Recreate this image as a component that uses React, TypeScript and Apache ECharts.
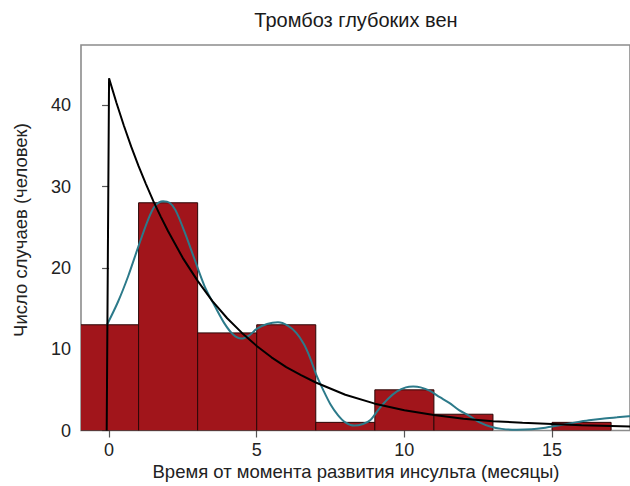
import React, { useEffect, useRef } from "react";
import * as echarts from "echarts";

// Histogram: month bins (centres) and the number of cases in each
const binCenters = [0, 2, 4, 6, 8, 10, 12, 14, 16];
const binWidth = 2;
const caseCounts = [13, 28, 12, 13, 1, 5, 2, 0, 1];

// Fitted exponential curve (time, cases)
const expCurve: [number, number][] = [
  [-0.08, 0], [0, 43.3], [0.25, 40.3], [0.5, 37.5], [0.75, 34.9], [1, 32.5],
  [1.25, 30.3], [1.5, 28.2], [1.75, 26.3], [2, 24.5], [2.5, 21.2], [3, 18.4],
  [3.5, 15.9], [4, 13.8], [4.5, 12.0], [5, 10.4], [5.5, 9.0], [6, 7.8],
  [6.5, 6.8], [7, 5.9], [8, 4.4], [9, 3.3], [10, 2.5], [11, 1.9], [12, 1.45],
  [13, 1.15], [14, 0.95], [15, 0.8], [16, 0.65], [17, 0.55], [18, 0.45], [18.5, 0.42],
];

// Kernel density estimate (time, cases)
const densityCurve: [number, number][] = [
  [-0.07, 13.0], [0.3, 15.8], [0.65, 19.0], [1.0, 22.7], [1.33, 26.0], [1.55, 27.6],
  [1.83, 28.2], [2.05, 28.0], [2.25, 27.1], [2.57, 24.3], [2.9, 21.0], [3.24, 17.7],
  [3.58, 15.3], [3.9, 13.2], [4.2, 11.8], [4.48, 11.3], [4.75, 11.7], [5.0, 12.5],
  [5.35, 13.1], [5.72, 13.3], [6.05, 12.9], [6.34, 12.0], [6.6, 10.6], [6.8, 9.0],
  [7.0, 7.0], [7.25, 5.0], [7.5, 3.2], [7.75, 1.9], [8.0, 1.0], [8.3, 0.6],
  [8.6, 0.8], [8.85, 1.3], [9.15, 2.7], [9.45, 3.9], [9.75, 4.8], [10.05, 5.3],
  [10.3, 5.4], [10.55, 5.3], [10.85, 4.9], [11.2, 4.1], [11.52, 3.4], [11.85, 2.5],
  [12.2, 1.8], [12.55, 1.0], [12.9, 0.5], [13.3, 0.2], [13.8, 0.1], [14.3, 0.15],
  [14.7, 0.3], [15.0, 0.5], [15.4, 0.75], [15.8, 1.0], [16.25, 1.25], [16.7, 1.45],
  [17.2, 1.62], [17.6, 1.75], [18.0, 1.85], [18.5, 1.9],
];

const xTicks = [0, 5, 10, 15];
const yTicks = [0, 10, 20, 30, 40];

const chartTitle = "Тромбоз глубоких вен";
const xTitle = "Время от момента развития инсульта (месяцы)";
const yTitle = "Число случаев (человек)";

const FONT = "'Liberation Sans', Arial, Helvetica, sans-serif";
const TEXT = "#222";

export default function App() {
  const ref = useRef<HTMLDivElement>(null);

  useEffect(() => {
    if (!ref.current) return;
    const chart = echarts.init(ref.current, undefined, { renderer: "svg" });

    const histData = binCenters.map((c, i) => [c, caseCounts[i]]);

    chart.setOption({
      animation: false,
      backgroundColor: "#fff",
      textStyle: { fontFamily: FONT },
      grid: {
        left: 81,
        top: 45,
        width: 550,
        height: 385.5,
        show: true,
        borderColor: "#8c8c8c",
        borderWidth: 1.6,
        backgroundColor: "transparent",
      },
      xAxis: {
        type: "value",
        min: -0.95,
        max: 17.64,
        axisLine: { show: false },
        splitLine: { show: false },
        axisTick: {
          show: true,
          length: 7,
          customValues: xTicks,
          lineStyle: { color: "#555", width: 1.2 },
        },
        axisLabel: {
          customValues: xTicks,
          fontSize: 18,
          color: TEXT,
          margin: 10,
          fontFamily: FONT,
        },
      },
      yAxis: {
        type: "value",
        min: 0,
        max: 47.4,
        axisLine: { show: false },
        splitLine: { show: false },
        axisTick: {
          show: true,
          length: 7,
          customValues: yTicks,
          lineStyle: { color: "#555", width: 1.2 },
        },
        axisLabel: {
          customValues: yTicks,
          fontSize: 18,
          color: TEXT,
          margin: 10,
          fontFamily: FONT,
        },
      },
      graphic: [
        {
          type: "text",
          x: 356,
          y: 20,
          style: {
            text: chartTitle,
            font: `20px ${FONT}`,
            fill: "#1a1a1a",
            align: "center",
            verticalAlign: "middle",
            textAlign: "center",
            textVerticalAlign: "middle",
          },
        },
        {
          type: "text",
          x: 356,
          y: 471,
          style: {
            text: xTitle,
            font: `18.5px ${FONT}`,
            fill: TEXT,
            align: "center",
            verticalAlign: "middle",
            textAlign: "center",
            textVerticalAlign: "middle",
          },
        },
        {
          type: "text",
          x: 20,
          y: 230,
          rotation: Math.PI / 2,
          style: {
            text: yTitle,
            font: `18.5px ${FONT}`,
            fill: TEXT,
            align: "center",
            verticalAlign: "middle",
            textAlign: "center",
            textVerticalAlign: "middle",
          },
        },
      ],
      series: [
        {
          type: "custom",
          clip: true,
          data: histData,
          renderItem: (params: any, api: any) => {
            const c = api.value(0);
            const v = api.value(1);
            if (!v) return null;
            const p0 = api.coord([c - binWidth / 2, v]);
            const p1 = api.coord([c + binWidth / 2, 0]);
            return {
              type: "rect",
              shape: { x: p0[0], y: p0[1], width: p1[0] - p0[0], height: p1[1] - p0[1] },
              style: { fill: "#a1151b", stroke: "#2b0707", lineWidth: 1 },
            };
          },
          z: 2,
        },
        {
          type: "line",
          data: densityCurve,
          showSymbol: false,
          smooth: 0.3,
          clip: true,
          lineStyle: { color: "#2c7a8a", width: 2 },
          z: 3,
        },
        {
          type: "line",
          data: expCurve,
          showSymbol: false,
          smooth: false,
          clip: true,
          lineStyle: { color: "#000", width: 2 },
          z: 4,
        },
      ],
    });

    return () => chart.dispose();
  }, []);

  return (
    <div
      ref={ref}
      style={{ position: "absolute", left: 0, top: 0, width: 630, height: 486 }}
    />
  );
}
